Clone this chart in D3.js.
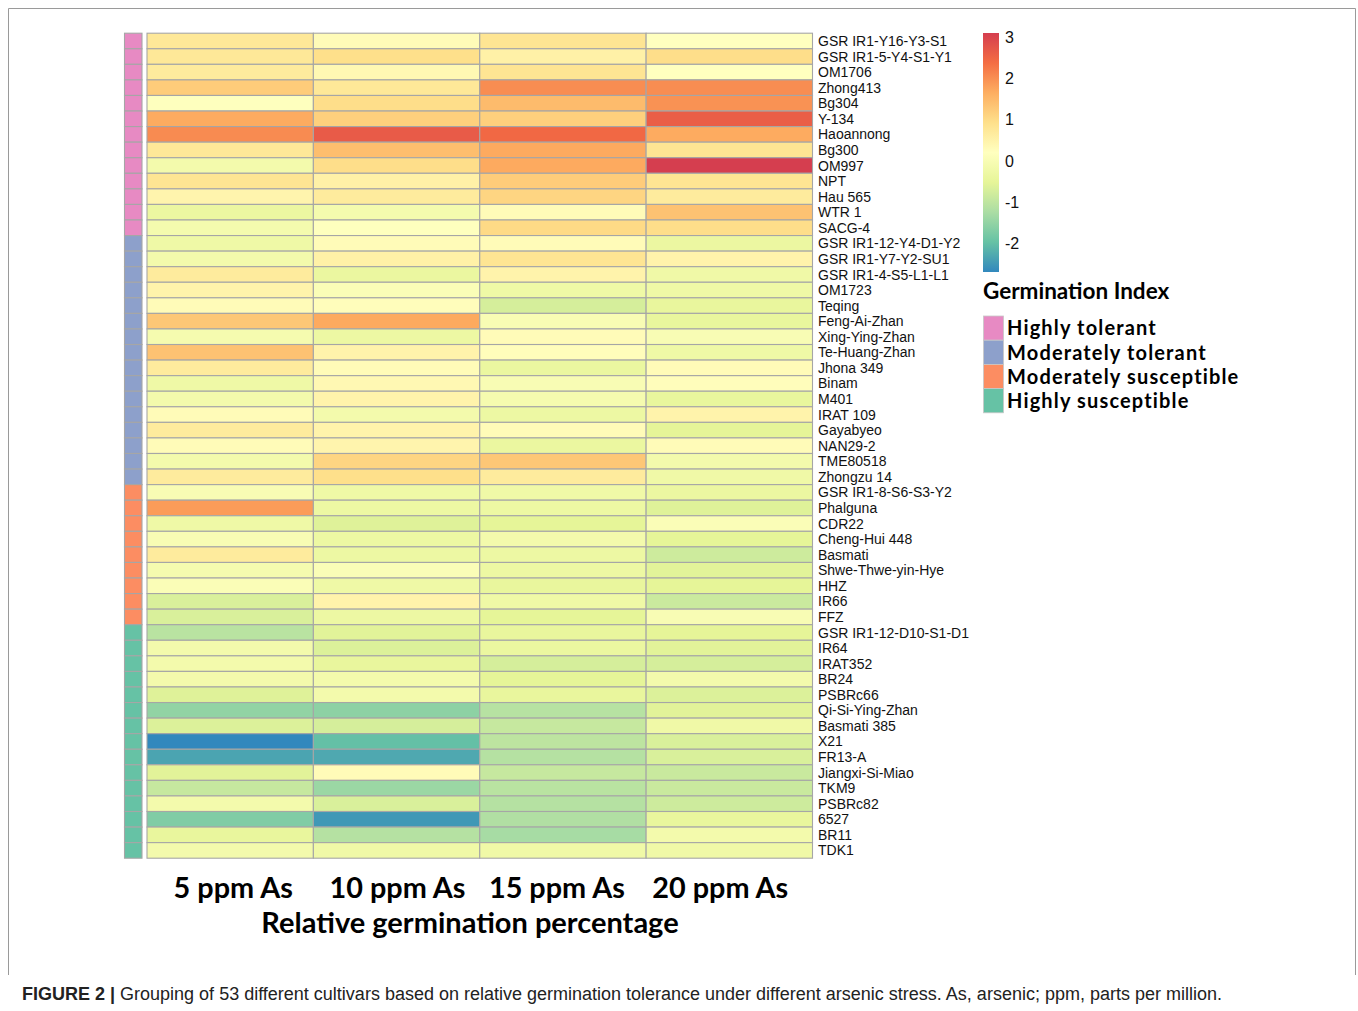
<!DOCTYPE html>
<html>
<head>
<meta charset="utf-8">
<script src="https://cdn.jsdelivr.net/npm/d3@7"></script>
<style>
  body { margin: 0; background: #fff; }
  svg { display: block; }
</style>
</head>
<body>
<svg id="chart" width="1358" height="1011"></svg>
<script>
// Cultivars in heatmap row order (top to bottom)
const cultivars = [
  "GSR IR1-Y16-Y3-S1", "GSR IR1-5-Y4-S1-Y1", "OM1706", "Zhong413", "Bg304", "Y-134",
  "Haoannong", "Bg300", "OM997", "NPT", "Hau 565", "WTR 1", "SACG-4",
  "GSR IR1-12-Y4-D1-Y2", "GSR IR1-Y7-Y2-SU1", "GSR IR1-4-S5-L1-L1", "OM1723", "Teqing",
  "Feng-Ai-Zhan", "Xing-Ying-Zhan", "Te-Huang-Zhan", "Jhona 349", "Binam", "M401",
  "IRAT 109", "Gayabyeo", "NAN29-2", "TME80518", "Zhongzu 14",
  "GSR IR1-8-S6-S3-Y2", "Phalguna", "CDR22", "Cheng-Hui 448", "Basmati",
  "Shwe-Thwe-yin-Hye", "HHZ", "IR66", "FFZ",
  "GSR IR1-12-D10-S1-D1", "IR64", "IRAT352", "BR24", "PSBRc66", "Qi-Si-Ying-Zhan",
  "Basmati 385", "X21", "FR13-A", "Jiangxi-Si-Miao", "TKM9", "PSBRc82", "6527", "BR11", "TDK1"
];

// Tolerance group of each cultivar (index into groupNames)
const groupNames = ["Highly tolerant", "Moderately tolerant", "Moderately susceptible", "Highly susceptible"];
const cultivarGroup = [
  0,0,0,0,0,0,0,0,0,0,0,0,0,
  1,1,1,1,1,1,1,1,1,1,1,1,1,1,1,1,
  2,2,2,2,2,2,2,2,2,
  3,3,3,3,3,3,3,3,3,3,3,3,3,3,3
];

// Treatments (heatmap columns)
const treatments = ["5 ppm As", "10 ppm As", "15 ppm As", "20 ppm As"];

// Scaled germination index per treatment, in cultivar order
const gi5 = [
  0.74, 0.74, 0.67, 1.21, 0.18, 1.68, 2.04, 0.74, -0.15, 0.81, 0.45, -0.35, -0.12,
  -0.26, -0.15, 0.67, 0.48, 0.30, 1.29, -0.09, 1.36, 0.67, -0.26, -0.15, 0.30, 0.67, 0.30, -0.15, 0.67,
  0.00, 1.85, -0.26, 0.00, 0.67, -0.09, 0.05, -0.69, -0.69,
  -1.08, -0.15, -0.15, -0.15, -0.61, -1.51, -0.65, -2.70, -2.35, -0.58, -0.92, -0.15, -1.70, -0.44, -0.15
];
const gi10 = [
  0.30, 0.93, 0.37, 0.74, 0.95, 1.16, 2.65, 1.42, 0.95, 0.53, 0.67, -0.12, 0.18,
  0.30, 0.53, -0.38, 0.05, 0.25, 1.69, -0.32, 0.48, 0.30, 0.37, 0.48, -0.15, 0.48, 0.45, 1.08, 0.93,
  -0.26, -0.32, -0.61, -0.32, -0.32, 0.05, -0.26, 0.48, -0.32,
  -0.58, -0.65, -0.44, -0.15, -0.15, -1.56, -0.73, -2.00, -2.30, 0.30, -1.42, -0.69, -2.50, -1.13, -0.24
];
const gi15 = [
  0.81, 0.53, 0.81, 2.02, 1.46, 1.16, 2.45, 1.69, 1.69, 1.21, 1.08, 0.30, 1.01,
  0.30, 0.81, 0.48, -0.26, -0.73, 0.00, 0.30, 0.25, -0.38, 0.00, -0.09, -0.32, 0.30, -0.38, 1.29, 0.67,
  -0.24, -0.32, -0.52, -0.15, -0.32, -0.32, -0.44, -0.26, -0.52,
  -0.44, -0.38, -0.73, -0.52, -0.44, -1.10, -0.92, -1.03, -1.13, -0.92, -1.08, -1.13, -1.18, -1.29, -0.24
];
const gi20 = [
  0.20, 0.95, 0.20, 2.02, 1.96, 2.60, 1.68, 0.81, 3.10, 0.81, 0.67, 1.36, 0.95,
  -0.35, 0.48, -0.24, -0.26, -0.44, -0.44, 0.00, -0.26, 0.30, 0.25, -0.44, 0.48, -0.52, 0.30, -0.15, -0.24,
  -0.35, -0.61, 0.05, -0.52, -0.83, -0.58, -0.52, -0.87, 0.00,
  -0.52, -0.58, -0.73, -0.15, -0.65, -0.58, -0.24, -0.69, -0.69, -0.88, -0.88, -0.83, -0.44, -0.15, -0.24
];
const seriesByTreatment = [gi5, gi10, gi15, gi20];

// Colour bar ticks
const legendTicks = [3, 2, 1, 0, -1, -2];
const legendTitle = "Germination Index";
const axisTitle = "Relative germination percentage";
const captionLead = "FIGURE 2 |";
const captionText = " Grouping of 53 different cultivars based on relative germination tolerance under different arsenic stress. As, arsenic; ppm, parts per million.";

// ---- styling ----
const spectral = ["#D53E4F", "#F46D43", "#FDAE61", "#FEE08B", "#FFFFBF", "#E6F598", "#ABDDA4", "#66C2A5", "#3288BD"];
const groupColors = ["#E78AC3", "#8DA0CB", "#FC8D62", "#66C2A5"];
const valueMax = 3.1, valueMin = -2.7;
const gridStroke = "#A6A6A6";

const color = d3.scaleLinear()
  .domain(spectral.map((_, i) => valueMax - i * (valueMax - valueMin) / (spectral.length - 1)))
  .range(spectral)
  .interpolate(d3.interpolateRgb)
  .clamp(true);

const svg = d3.select("#chart");

// Figure frame
svg.append("path")
  .attr("d", "M8.5,975 V8.5 H1355.5 V975")
  .attr("fill", "none").attr("stroke", "#9a9a9a").attr("stroke-width", 1);

const y = d3.scaleBand().domain(cultivars).range([33.2, 858.2]);
const x = d3.scaleBand().domain(treatments).range([147, 812.5]);

// Heatmap cells
const cells = [];
treatments.forEach((t, j) => {
  cultivars.forEach((c, i) => cells.push({ t, c, v: seriesByTreatment[j][i] }));
});
svg.append("g").selectAll("rect").data(cells).join("rect")
  .attr("x", d => x(d.t))
  .attr("y", d => y(d.c))
  .attr("width", x.bandwidth())
  .attr("height", y.bandwidth())
  .attr("fill", d => color(d.v))
  .attr("stroke", gridStroke)
  .attr("stroke-width", 1.1);

// Group annotation column
svg.append("g").selectAll("rect").data(cultivars).join("rect")
  .attr("x", 124.5)
  .attr("y", d => y(d))
  .attr("width", 17.5)
  .attr("height", y.bandwidth())
  .attr("fill", (d, i) => groupColors[cultivarGroup[i]])
  .attr("stroke", gridStroke)
  .attr("stroke-width", 1.1);

// Row labels
svg.append("g").selectAll("text").data(cultivars).join("text")
  .attr("x", 818)
  .attr("y", d => y(d) + y.bandwidth() / 2)
  .attr("dy", "0.36em")
  .attr("font-family", "'Liberation Sans', Arial, sans-serif")
  .attr("font-size", 14)
  .attr("fill", "#111")
  .text(d => d);

// Column labels
svg.append("g").selectAll("text").data(treatments).join("text")
  .attr("x", (d, i) => x(d) + x.bandwidth() / 2 + [3, 1, -6, -9][i])
  .attr("y", 898)
  .attr("text-anchor", "middle")
  .attr("font-family", "Lato, 'Open Sans', sans-serif")
  .attr("font-weight", "bold")
  .attr("font-size", 28.8)
  .attr("fill", "#000")
  .text(d => d);

svg.append("text")
  .attr("x", 470).attr("y", 933)
  .attr("text-anchor", "middle")
  .attr("font-family", "Lato, 'Open Sans', sans-serif")
  .attr("font-weight", "bold")
  .attr("font-size", 29)
  .text(axisTitle);

// Colour bar
const ly = d3.scaleLinear().domain([valueMax, valueMin]).range([33, 272]);
const grad = svg.append("defs").append("linearGradient")
  .attr("id", "giGrad").attr("x1", 0).attr("x2", 0).attr("y1", 0).attr("y2", 1);
spectral.forEach((c, i) => {
  grad.append("stop").attr("offset", i / (spectral.length - 1)).attr("stop-color", c);
});
svg.append("rect")
  .attr("x", 983).attr("y", ly(valueMax))
  .attr("width", 16).attr("height", ly(valueMin) - ly(valueMax))
  .attr("fill", "url(#giGrad)");

svg.append("g").selectAll("text").data(legendTicks).join("text")
  .attr("x", 1005)
  .attr("y", d => ly(d))
  .attr("dy", "0.36em")
  .attr("font-family", "'Liberation Sans', Arial, sans-serif")
  .attr("font-size", 16)
  .attr("fill", "#111")
  .text(d => d);

svg.append("text")
  .attr("x", 983).attr("y", 299)
  .attr("font-family", "Lato, 'Open Sans', sans-serif")
  .attr("font-weight", "bold")
  .attr("font-size", 22.5)
  .text(legendTitle);

// Group legend
const lg = svg.append("g");
lg.selectAll("rect").data(groupNames).join("rect")
  .attr("x", 983.5).attr("y", (d, i) => 316 + i * 24.2)
  .attr("width", 20).attr("height", 24.2)
  .attr("fill", (d, i) => groupColors[i])
  .attr("stroke", "#c8c8c8").attr("stroke-width", 0.8);
lg.selectAll("text").data(groupNames).join("text")
  .attr("x", 1007).attr("y", (d, i) => 316 + i * 24.2 + 12.1)
  .attr("dy", "0.36em")
  .attr("font-family", "Lato, 'Open Sans', sans-serif")
  .attr("font-weight", "bold")
  .attr("font-size", 20)
  .attr("letter-spacing", 1.15)
  .text(d => d);

// Caption
const cap = svg.append("text")
  .attr("x", 22).attr("y", 1000)
  .attr("font-family", "'Liberation Sans', Arial, sans-serif")
  .attr("font-size", 18)
  .attr("fill", "#222");
cap.append("tspan").attr("font-weight", "bold").text(captionLead);
cap.append("tspan").text(captionText);
</script>
</body>
</html>
